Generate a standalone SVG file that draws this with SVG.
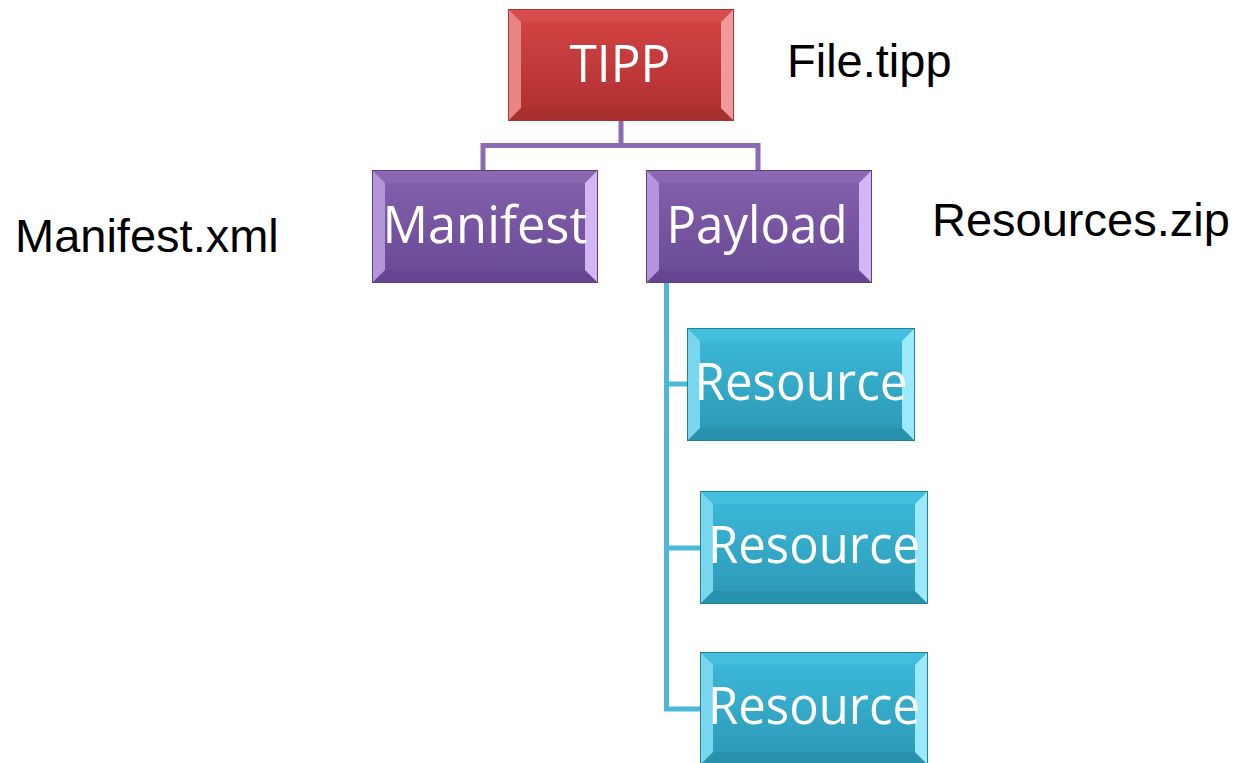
<svg xmlns="http://www.w3.org/2000/svg" width="1239" height="763" viewBox="0 0 1239 763">
<defs>
<linearGradient id="gRed" x1="0" y1="0" x2="0" y2="1"><stop offset="0" stop-color="#d64545"/><stop offset="1" stop-color="#ad2f2f"/></linearGradient>
<linearGradient id="gPur" x1="0" y1="0" x2="0" y2="1"><stop offset="0" stop-color="#8662ad"/><stop offset="1" stop-color="#684894"/></linearGradient>
<linearGradient id="gCyan" x1="0" y1="0" x2="0" y2="1"><stop offset="0" stop-color="#3dbbdc"/><stop offset="1" stop-color="#2b97b3"/></linearGradient>
</defs>
<style>
.lbl{font-family:"Liberation Sans",Arial,sans-serif;font-size:47px;fill:#000}
.nt{font-family:"Open Sans","Noto Sans",sans-serif;font-size:51px;fill:#fff;text-anchor:middle}
.cp{fill:none;stroke:#8a6cb3;stroke-width:5}
.cc{fill:none;stroke:#4bb9d6;stroke-width:5}
.red .top{fill:#d95555}.red .bot{fill:#a53030}.red .lft{fill:#e98585}.red .rgt{fill:#f19a9a}
.pur .top{fill:#8e6cb6}.pur .bot{fill:#654590}.pur .lft{fill:#b596dc}.pur .rgt{fill:#d2b6f5}
.cya .top{fill:#48c2e0}.cya .bot{fill:#268ca7}.cya .lft{fill:#78d6ee}.cya .rgt{fill:#9aeafb}
.edge{fill:none;stroke-width:1}
.red .edge{stroke:#a33}.pur .edge{stroke:#5c4080}.cya .edge{stroke:#247f97}
</style>
<g id="connectors">
<path class="cp" d="M621 121V145.5M483 170V145.5H758V170"/>
<path class="cc" d="M666.5 283V711.5M666.5 384H688M666.5 548H701M666.5 709H701"/>
</g>
<g id="tipp" class="red">
<rect x="508" y="9" width="226" height="112" fill="url(#gRed)"/>
<polygon class="top" points="508,9 734,9 721,22 521,22" opacity="0.6"/>
<polygon class="bot" points="508,121 521,108 721,108 734,121" opacity="0.6"/>
<polygon class="lft" points="508,9 521,22 521,108 508,121"/>
<polygon class="rgt" points="734,9 734,121 721,108 721,22"/>
<rect class="edge" x="508.5" y="9.5" width="225" height="111"/>
<text class="nt" x="620" y="82" textLength="101" lengthAdjust="spacingAndGlyphs">TIPP</text>
</g>
<g id="manifest" class="pur">
<rect x="372" y="170" width="226" height="113" fill="url(#gPur)"/>
<polygon class="top" points="372,170 598,170 585,183 385,183" opacity="0.6"/>
<polygon class="bot" points="372,283 385,270 585,270 598,283" opacity="0.6"/>
<polygon class="lft" points="372,170 385,183 385,270 372,283"/>
<polygon class="rgt" points="598,170 598,283 585,270 585,183"/>
<rect class="edge" x="372.5" y="170.5" width="225" height="112"/>
<text class="nt" x="485" y="243" textLength="205" lengthAdjust="spacingAndGlyphs">Manifest</text>
</g>
<g id="payload" class="pur">
<rect x="646" y="170" width="226" height="113" fill="url(#gPur)"/>
<polygon class="top" points="646,170 872,170 859,183 659,183" opacity="0.6"/>
<polygon class="bot" points="646,283 659,270 859,270 872,283" opacity="0.6"/>
<polygon class="lft" points="646,170 659,183 659,270 646,283"/>
<polygon class="rgt" points="872,170 872,283 859,270 859,183"/>
<rect class="edge" x="646.5" y="170.5" width="225" height="112"/>
<text class="nt" x="757" y="243" textLength="181" lengthAdjust="spacingAndGlyphs">Payload</text>
</g>
<g id="resource1" class="cya">
<rect x="687" y="328" width="228" height="113" fill="url(#gCyan)"/>
<polygon class="top" points="687,328 915,328 902,341 700,341" opacity="0.6"/>
<polygon class="bot" points="687,441 700,428 902,428 915,441" opacity="0.6"/>
<polygon class="lft" points="687,328 700,341 700,428 687,441"/>
<polygon class="rgt" points="915,328 915,441 902,428 902,341"/>
<rect class="edge" x="687.5" y="328.5" width="227" height="112"/>
<text class="nt" x="801" y="400" textLength="213" lengthAdjust="spacingAndGlyphs">Resource</text>
</g>
<g id="resource2" class="cya">
<rect x="700" y="491" width="228" height="113" fill="url(#gCyan)"/>
<polygon class="top" points="700,491 928,491 915,504 713,504" opacity="0.6"/>
<polygon class="bot" points="700,604 713,591 915,591 928,604" opacity="0.6"/>
<polygon class="lft" points="700,491 713,504 713,591 700,604"/>
<polygon class="rgt" points="928,491 928,604 915,591 915,504"/>
<rect class="edge" x="700.5" y="491.5" width="227" height="112"/>
<text class="nt" x="814" y="563" textLength="212" lengthAdjust="spacingAndGlyphs">Resource</text>
</g>
<g id="resource3" class="cya">
<rect x="700" y="652" width="228" height="113" fill="url(#gCyan)"/>
<polygon class="top" points="700,652 928,652 915,665 713,665" opacity="0.6"/>
<polygon class="bot" points="700,765 713,752 915,752 928,765" opacity="0.6"/>
<polygon class="lft" points="700,652 713,665 713,752 700,765"/>
<polygon class="rgt" points="928,652 928,765 915,752 915,665"/>
<rect class="edge" x="700.5" y="652.5" width="227" height="112"/>
<text class="nt" x="814" y="724" textLength="212" lengthAdjust="spacingAndGlyphs">Resource</text>
</g>
<g id="labels">
<text class="lbl" x="787" y="77">File.tipp</text>
<text class="lbl" x="15" y="252">Manifest.xml</text>
<text class="lbl" x="932" y="236">Resources.zip</text>
</g>
</svg>
